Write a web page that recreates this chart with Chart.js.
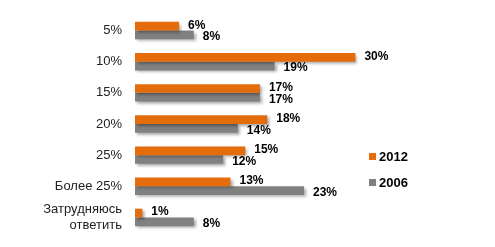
<!DOCTYPE html>
<html>
<head>
<meta charset="utf-8">
<script src="https://cdn.jsdelivr.net/npm/chart.js@4"></script>
<style>
  html, body { margin: 0; padding: 0; background: #fff; }
  #wrap { width: 495px; height: 247px; }
</style>
</head>
<body>
<div id="wrap"><canvas id="myChart" width="495" height="247"></canvas></div>
<script>
const categories = ["5%", "10%", "15%", "20%", "25%", "Более 25%", ["Затрудняюсь", "ответить"]];
const values2012 = [6, 30, 17, 18, 15, 13, 1];
const values2006 = [8, 19, 17, 14, 12, 23, 8];
const seriesNames = ["2012", "2006"];
const colors = ["#E46C0A", "#808080"];

// shadow under the bars
const shadowPlugin = {
    id: 'barShadow',
    beforeDatasetsDraw(chart) {
        const ctx = chart.ctx;
        ctx.save();
        ctx.shadowColor = 'rgba(0,0,0,0.35)';
        ctx.shadowBlur = 3;
        ctx.shadowOffsetX = 2;
        ctx.shadowOffsetY = 2;
    },
    afterDatasetsDraw(chart) {
        chart.ctx.restore();
    }
};

// value labels + legend
const labelPlugin = {
    id: 'valueLabels',
    afterDraw(chart) {
        const ctx = chart.ctx;
        ctx.save();
        ctx.font = 'bold 12px "Liberation Sans", Arial, sans-serif';
        ctx.fillStyle = '#000';
        ctx.textBaseline = 'middle';
        ctx.textAlign = 'left';
        chart.data.datasets.forEach((ds, i) => {
            const meta = chart.getDatasetMeta(i);
            meta.data.forEach((bar, j) => {
                const dy = i === 0 ? -1 : 2;
                ctx.fillText(ds.data[j] + '%', bar.x + 9, bar.y + dy);
            });
        });

        // legend
        ctx.font = 'bold 13px "Liberation Sans", Arial, sans-serif';
        const lx = 369, ly = [156, 182];
        seriesNames.forEach((name, i) => {
            ctx.fillStyle = colors[i];
            ctx.fillRect(lx, ly[i] - 3, 7, 7);
            ctx.fillStyle = '#000';
            ctx.fillText(name, lx + 10, ly[i] + 1);
        });
        ctx.restore();
    }
};

const ctx = document.getElementById('myChart').getContext('2d');
new Chart(ctx, {
    type: 'bar',
    data: {
        labels: categories,
        datasets: [{
            label: seriesNames[0],
            data: values2012,
            backgroundColor: colors[0],
            categoryPercentage: 0.56,
            barPercentage: 1
        }, {
            label: seriesNames[1],
            data: values2006,
            backgroundColor: colors[1],
            categoryPercentage: 0.56,
            barPercentage: 1
        }]
    },
    options: {
        indexAxis: 'y',
        responsive: false,
        animation: false,
        layout: { padding: { top: 15, bottom: 14, left: 0, right: 0 } },
        plugins: {
            legend: { display: false },
            tooltip: { enabled: false }
        },
        scales: {
            x: {
                display: false,
                min: 0,
                max: 49
            },
            y: {
                grid: { display: false, drawTicks: false },
                border: { display: false },
                afterFit(scale) {
                    scale.width = 135;
                    scale.paddingTop = 0;
                    scale.paddingBottom = 0;
                },
                ticks: {
                    autoSkip: false,
                    padding: 13,
                    color: '#222',
                    font: { family: '"Liberation Sans", Arial, sans-serif', size: 13 }
                }
            }
        }
    },
    plugins: [shadowPlugin, labelPlugin]
});
</script>
</body>
</html>
